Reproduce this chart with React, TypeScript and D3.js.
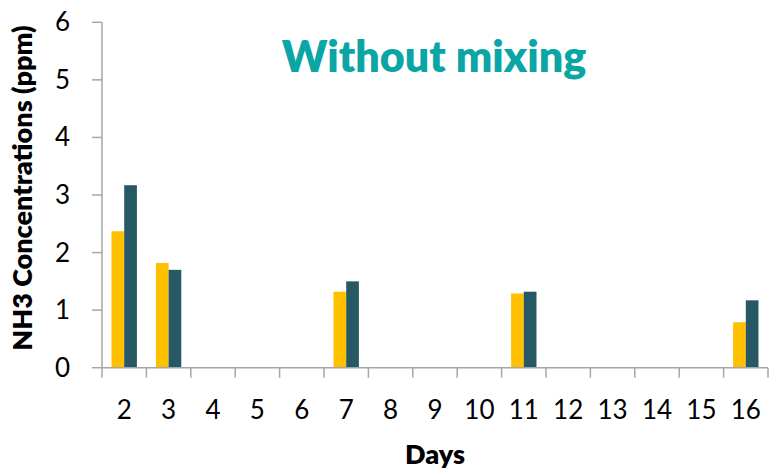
import React from "react";
import * as d3 from "d3";

const days = ["2", "3", "4", "5", "6", "7", "8", "9", "10", "11", "12", "13", "14", "15", "16"];
const seriesA: (number | null)[] = [2.37, 1.82, null, null, null, 1.32, null, null, null, 1.29, null, null, null, null, 0.79];
const seriesB: (number | null)[] = [3.17, 1.70, null, null, null, 1.50, null, null, null, 1.32, null, null, null, null, 1.17];
const yTicks = [0, 1, 2, 3, 4, 5, 6];
const title = "Without mixing";
const xTitle = "Days";
const yTitle = "NH3 Concentrations (ppm)";

const W = 770, H = 471;
const left = 102, right = 768, top = 22.3, bottom = 367.7;
const colors = ["#FFC000", "#265865"];
const axisColor = "#A6A6A6";
const font = "Lato, 'Open Sans', sans-serif";

export default function App() {
  const x = d3.scaleBand<string>().domain(days).range([left, right]).paddingInner(0).paddingOuter(0);
  const y = d3.scaleLinear().domain([0, 6]).range([bottom, top]);
  const bw = x.bandwidth();
  const barW = bw / 3.5;
  const series = [seriesA, seriesB];

  return (
    <svg width={W} height={H} style={{ position: "absolute", left: 0, top: 0, background: "#fff" }}>
      <text x={434} y={72} textAnchor="middle" fontFamily={font} fontWeight={800} fontSize={43} fill="#0AA5A5">
        {title}
      </text>
      {series.map((s, si) =>
        s.map((v, i) =>
          v == null ? null : (
            <rect
              key={`${si}-${i}`}
              x={(x(days[i]) as number) + bw / 2 - barW + si * barW}
              y={y(v)}
              width={barW}
              height={y(0) - y(v)}
              fill={colors[si]}
            />
          )
        )
      )}
      {/* y axis */}
      <line x1={left} x2={left} y1={top} y2={bottom} stroke={axisColor} strokeWidth={1.5} />
      {yTicks.map((t) => (
        <g key={t}>
          <line x1={left - 10} x2={left} y1={y(t)} y2={y(t)} stroke={axisColor} strokeWidth={1.5} />
          <text x={70} y={y(t) + 9} textAnchor="end" fontFamily={font} fontSize={26} fill="#000">
            {t}
          </text>
        </g>
      ))}
      {/* x axis */}
      <line x1={left} x2={right} y1={bottom} y2={bottom} stroke={axisColor} strokeWidth={1.5} />
      {days.concat(["end"]).map((d, i) => {
        const px = left + i * bw;
        return <line key={d} x1={px} x2={px} y1={bottom} y2={bottom + 10} stroke={axisColor} strokeWidth={1.5} />;
      })}
      {days.map((d) => (
        <text key={d} x={(x(d) as number) + bw / 2} y={419} textAnchor="middle" fontFamily={font} fontSize={26} fill="#000">
          {d}
        </text>
      ))}
      <text x={435} y={464} textAnchor="middle" fontFamily={font} fontWeight={800} fontSize={27} fill="#000">
        {xTitle}
      </text>
      <text
        transform={`translate(32, 188) rotate(-90)`}
        textAnchor="middle"
        fontFamily={font}
        fontWeight={800}
        fontSize={27}
        fill="#000"
      >
        {yTitle}
      </text>
    </svg>
  );
}
